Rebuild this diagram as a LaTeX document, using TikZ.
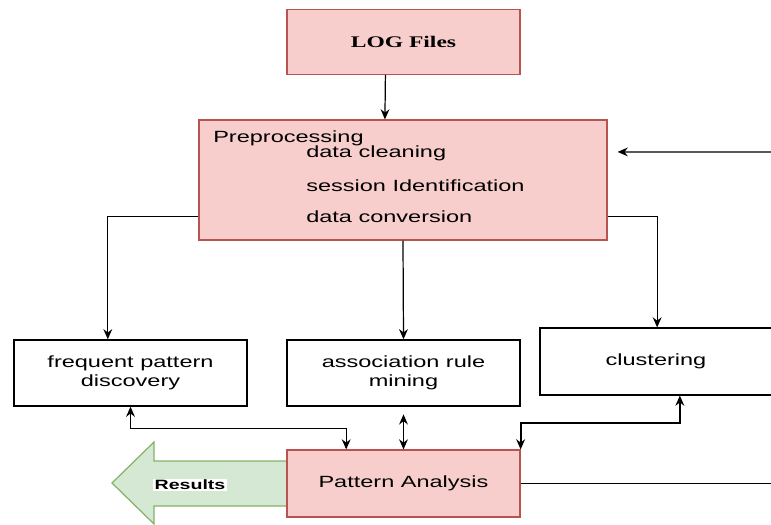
\documentclass[tikz,border=0pt]{standalone}
\usepackage{fontspec}
\setmainfont{Liberation Sans}[FakeStretch=1.45]
\newfontfamily\serifbox{Liberation Serif}[FakeStretch=1.45]
\usetikzlibrary{arrows.meta}
\definecolor{pinkfill}{HTML}{F8CECC}
\definecolor{pinkline}{HTML}{B85450}
\definecolor{greenfill}{HTML}{D5E8D4}
\definecolor{greenline}{HTML}{82B366}
\begin{document}
\begin{tikzpicture}[x=0.026cm, y=-0.026cm, every node/.style={font=\fontsize{12pt}{14pt}\selectfont},
  pbox/.style={draw=pinkline, fill=pinkfill, line width=0.9pt, minimum width=6.06cm, minimum height=1.68cm, inner sep=0pt},
  wbox/.style={draw, line width=0.9pt, align=center, minimum width=6.06cm, minimum height=1.72cm, inner sep=0pt},
  ptxt/.style={anchor=west, inner sep=0pt},
  arr/.style={-{Stealth[length=7.5pt,width=6.5pt]}, line width=0.9pt},
  arrtwo/.style={{Stealth[length=7.5pt,width=6.5pt]}-{Stealth[length=7.5pt,width=6.5pt]}, line width=0.9pt}]
\useasboundingbox (0,0) rectangle (771,525);
% results arrow
\draw[draw=greenline, fill=greenfill, line width=0.9pt] (287,461) -- (154,461) -- (154,442) -- (112,483) -- (154,524) -- (154,506) -- (287,506);
\node[fill=white, inner sep=1pt, font=\fontsize{10pt}{12pt}\selectfont\bfseries] (res) at (190,485) {Results};
% top
\node[pbox, font=\serifbox\bfseries\fontsize{12pt}{14pt}\selectfont] (log) at (403.5,42) {LOG Files};
\node[pbox, minimum width=10.61cm, minimum height=3.12cm] (prep) at (403,180) {};
\node[ptxt] (pretitle) at (213,138) {Preprocessing};
\node[ptxt] (clean) at (306,153) {data cleaning};
\node[ptxt] (sess) at (306,186) {session Identification};
\node[ptxt] (conv) at (306,217) {data conversion};
% mining level
\node[wbox] (freq) at (130.5,373) {frequent pattern\\discovery};
\node[wbox] (assoc) at (403.5,373) {association rule\\mining};
\node[wbox, minimum width=6.03cm, minimum height=1.74cm] (clust) at (656,361.5) {clustering};
% analysis
\node[pbox, minimum height=1.74cm] (pat) at (403.5,483.5) {Pattern Analysis};
\coordinate (patend) at (771,483.5);
\coordinate (loopin) at (771,152);
% edges
\draw[arr] ([xshift=-0.47cm]log.south) -- ([xshift=-0.47cm]prep.north);
\draw[arr] ([yshift=-0.94cm]prep.west) -| ([xshift=-0.59cm]freq.north);
\draw[arr] (prep.south) -- (assoc.north);
\draw[arr] ([yshift=-0.94cm]prep.east) -| ([xshift=0.03cm]clust.north);
\draw[arr] (loopin) -- ([xshift=0.26cm,yshift=0.73cm]prep.east);
\draw[arrtwo] (freq.south) -- ++(0,22) -| ([xshift=-1.49cm]pat.north);
\draw[arrtwo] ([yshift=-0.2cm]assoc.south) -- (pat.north);
\draw[arrtwo, line width=1.5pt] ([xshift=0.62cm]clust.south) -- ++(0,27) -| (pat.north east);
\draw[line width=0.9pt] (pat.east) -- (patend);
\end{tikzpicture}
\end{document}
